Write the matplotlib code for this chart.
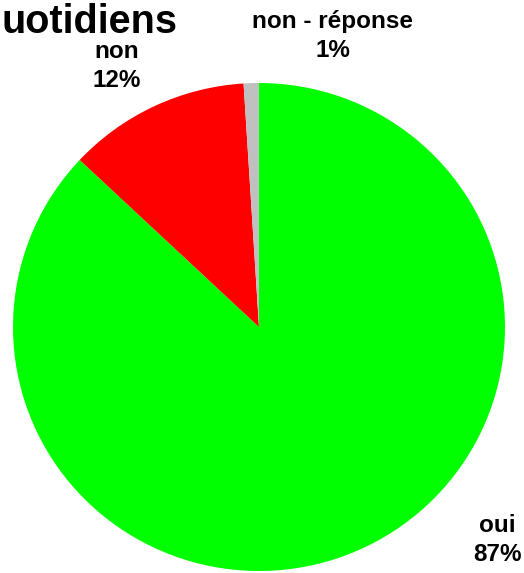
import matplotlib.pyplot as plt

plt.rcParams["font.family"] = ["Liberation Sans", "DejaVu Sans"]

categories = ["oui", "non", "non - réponse"]
values = [87, 12, 1]
colors = ["#00ff00", "#ff0000", "#c0c0c0"]

W, H = 524, 573
fig = plt.figure(figsize=(W / 100, H / 100), dpi=100)
ax = fig.add_axes([0, 0, 1, 1])

# pie centre at pixel (259, 327), radii 246 px (x) and 244 px (y)
cx, cy, rx, ry = 259, 327, 246, 244
ax.pie(values, colors=colors, startangle=90, counterclock=False, radius=1,
       wedgeprops=dict(linewidth=0))
ax.set_xlim(-cx / rx, (W - cx) / rx)
ax.set_ylim(-(H - cy) / ry, cy / ry)
ax.set_aspect("auto")
ax.axis("off")

def px(x, y):
    return x / W, 1 - y / H

label_pos = [(497, 540), (117, 66), (333, 36)]
for cat, val, (x, y) in zip(categories, values, label_pos):
    fig.text(*px(x, y), f"{cat}\n{val}%", ha="center", va="center",
             fontsize=17.5, fontweight="bold", linespacing=1.35)

fig.text(*px(1, 22), "uotidiens", ha="left", va="center",
         fontsize=28.5, fontweight="bold")

fig.savefig("out.png", dpi=100)
